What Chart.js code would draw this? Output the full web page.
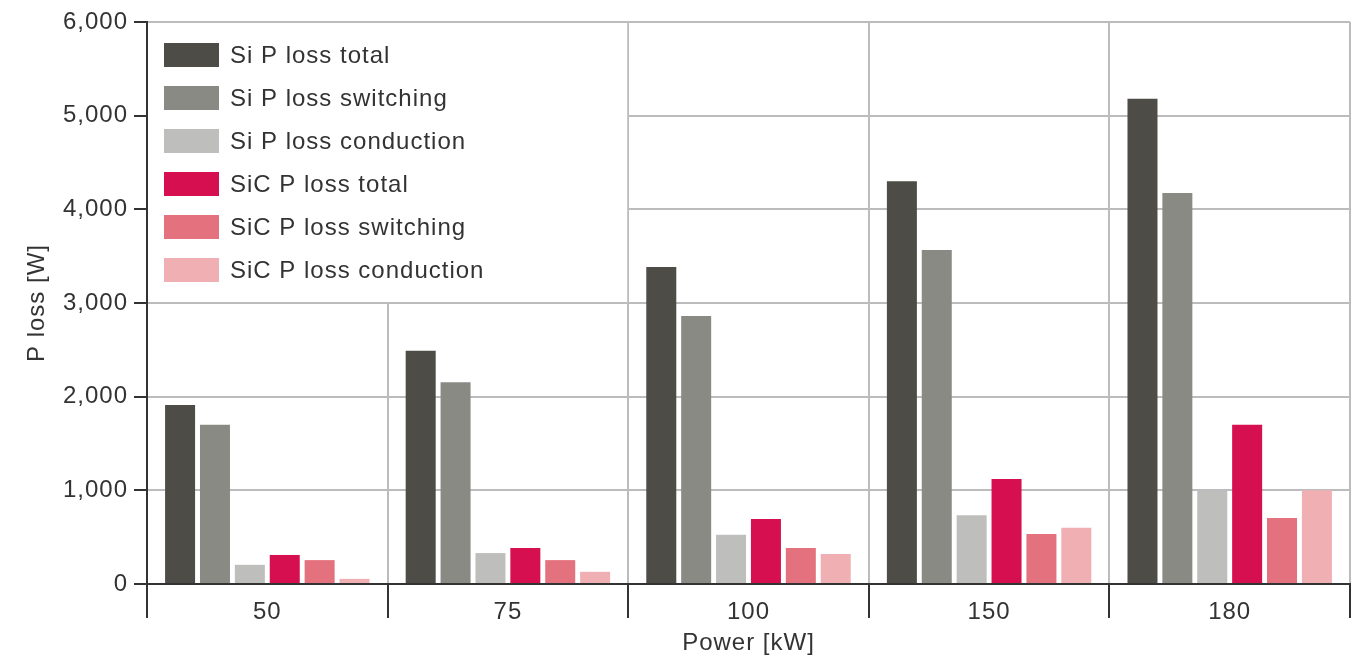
<!DOCTYPE html>
<html>
<head>
<meta charset="utf-8">
<script src="https://cdn.jsdelivr.net/npm/chart.js@4/dist/chart.umd.min.js"></script>
<style>
  html, body { margin: 0; padding: 0; background: #fff; }
  #wrap { width: 1364px; height: 658px; }
</style>
</head>
<body>
<div id="wrap"><canvas id="grafico" width="1364" height="658"></canvas></div>
<script>
// dados
const categorias = ['50', '75', '100', '150', '180'];
const siTotal = [1910, 2490, 3385, 4300, 5180];
const siSwitching = [1700, 2155, 2860, 3565, 4175];
const siConduction = [205, 330, 525, 735, 1000];
const sicTotal = [310, 385, 695, 1120, 1700];
const sicSwitching = [255, 255, 385, 535, 705];
const sicConduction = [55, 130, 320, 600, 1000];
const yTicks = [0, 1000, 2000, 3000, 4000, 5000, 6000];

const TEXTO = '#333333';
const GRADE = '#bcbcbe';
const FONTE = '"Liberation Sans", Arial, Helvetica, sans-serif';

// espaçamento entre letras como no original
const espacamento = {
  id: 'espacamento',
  beforeDraw(chart) { chart.ctx.letterSpacing = '1px'; }
};

// legenda desenhada dentro da área do gráfico, sobre um fundo branco
const legendaInterna = {
  id: 'legendaInterna',
  beforeDatasetsDraw(chart) {
    const { ctx, chartArea, scales } = chart;
    const xFim = (scales.x.getPixelForValue(1) + scales.x.getPixelForValue(2)) / 2;
    const yFim = scales.y.getPixelForValue(3000);
    ctx.save();
    ctx.fillStyle = '#fff';
    ctx.fillRect(chartArea.left + 1, chartArea.top + 1, xFim - chartArea.left - 2, yFim - chartArea.top - 2);
    ctx.restore();
  },
  afterDraw(chart) {
    const { ctx, chartArea } = chart;
    ctx.save();
    ctx.font = '24px ' + FONTE;
    ctx.letterSpacing = '1px';
    ctx.textBaseline = 'middle';
    chart.data.datasets.forEach((ds, i) => {
      const y = chartArea.top + 33 + i * 43;
      ctx.fillStyle = ds.backgroundColor;
      ctx.fillRect(chartArea.left + 17, y - 12, 55, 24);
      ctx.fillStyle = TEXTO;
      ctx.fillText(ds.label, chartArea.left + 83, y + 1);
    });
    ctx.restore();
  }
};

const serie = (label, data, cor) => ({
  label, data, backgroundColor: cor, borderWidth: 0,
  categoryPercentage: 0.87, barPercentage: 0.86
});

new Chart(document.getElementById('grafico'), {
  type: 'bar',
  data: {
    labels: categorias,
    datasets: [
      serie('Si P loss total', siTotal, '#4d4c46'),
      serie('Si P loss switching', siSwitching, '#8a8a85'),
      serie('Si P loss conduction', siConduction, '#bebebc'),
      serie('SiC P loss total', sicTotal, '#d60f50'),
      serie('SiC P loss switching', sicSwitching, '#e4717e'),
      serie('SiC P loss conduction', sicConduction, '#f0b0b3')
    ]
  },
  options: {
    responsive: false,
    devicePixelRatio: 1,
    animation: false,
    layout: { padding: { top: 22, right: 14, left: 0, bottom: 0 } },
    plugins: { legend: { display: false }, tooltip: { enabled: false } },
    scales: {
      x: {
        grid: { color: GRADE, lineWidth: 2, tickLength: 34, tickColor: TEXTO, tickWidth: 2, offset: true },
        border: { color: TEXTO, width: 2 },
        ticks: { color: TEXTO, font: { family: FONTE, size: 24 }, padding: -20 },
        title: { display: true, text: 'Power [kW]', color: TEXTO, font: { family: FONTE, size: 24 }, padding: { top: 0, bottom: 0 } },
        afterFit(scale) { scale.height = 74; }
      },
      y: {
        min: 0, max: 6000,
        afterBuildTicks(scale) { scale.ticks = yTicks.map(v => ({ value: v })); },
        grid: { color: GRADE, lineWidth: 2, tickLength: 13, tickColor: TEXTO, tickWidth: 2 },
        border: { color: TEXTO, width: 2 },
        ticks: {
          color: TEXTO, font: { family: FONTE, size: 24 }, padding: 6,
          callback: v => v.toLocaleString('en-US')
        },
        title: { display: true, text: 'P loss [W]', color: TEXTO, font: { family: FONTE, size: 24 }, padding: { top: 23, bottom: 0 } },
        afterFit(scale) { scale.width = 147; }
      }
    }
  },
  plugins: [espacamento, legendaInterna]
});
</script>
</body>
</html>
